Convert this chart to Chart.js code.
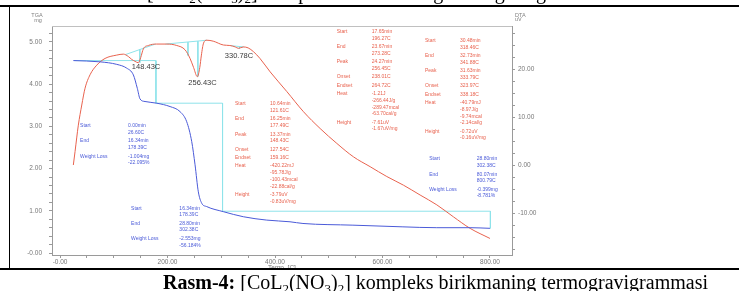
<!DOCTYPE html>
<html>
<head>
<meta charset="utf-8">
<script src="https://cdn.jsdelivr.net/npm/chart.js@4.4.1/dist/chart.umd.min.js"></script>
<style>
  html, body { margin: 0; padding: 0; background: #fff; }
  #sahifa { position: relative; width: 739px; height: 291px; overflow: hidden; background: #fff; }
  #grafik { position: absolute; left: 0; top: 0; }
  .chiziq { position: absolute; background: #000; z-index: 3; }
  #pastOq { position: absolute; left: 0; top: 270px; width: 739px; height: 21px; background: #fff; z-index: 2; }
  .sarlavha { position: absolute; font-family: 'Liberation Serif', 'Times New Roman', serif; font-size: 20px; line-height: 20px; white-space: nowrap; color: #000; z-index: 4; }
  .sarlavha sub { font-size: 13px; line-height: 0; vertical-align: -4px; }
</style>
</head>
<body>
<div id="sahifa">
  <canvas id="grafik" width="739" height="291"></canvas>
  <div class="sarlavha" style="left:147px; top:-18px;">[CoL<sub>2</sub>(NO<sub>3</sub>)<sub>2</sub>] kompleks birikmaning termogravigrammasi</div>
  <div class="chiziq" style="left:0; top:5px; width:739px; height:2px;"></div>
  <div class="chiziq" style="left:9px; top:5px; width:1px; height:264px;"></div>
  <div class="chiziq" style="left:0; top:268px; width:739px; height:2px;"></div>
  <div id="pastOq"></div>
  <div class="sarlavha" style="left:163px; top:272px;"><b>Rasm-4:</b> [CoL<sub>2</sub>(NO<sub>3</sub>)<sub>2</sub>] kompleks birikmaning termogravigrammasi</div>
</div>
<script>
// TGA (ko'k chiziq), mg
const tgaHarorat = [24.7, 74.4, 105.5, 124.1, 136.4, 143.8, 148.8, 158.1, 179.9, 204.7, 223.3, 235.7, 245, 251.2, 257.3, 263.6, 272.9, 303.8, 341, 384.6, 427.9, 452, 545, 638, 701, 763, 800];
const tgaMassa = [4.56, 4.53, 4.47, 4.38, 4.22, 3.90, 3.65, 3.59, 3.55, 3.47, 3.35, 3.11, 2.64, 2.09, 1.45, 1.18, 1.10, 0.98, 0.86, 0.78, 0.74, 0.70, 0.66, 0.62, 0.60, 0.60, 0.585];

// DTA (qizil chiziq), uV
const dtaHarorat = [24.7, 27.9, 34, 40.4, 46.5, 55.8, 68.3, 83.7, 105.5, 117.8, 127.1, 133.4, 139.5, 145.7, 150.1, 155, 164.3, 179.9, 198.5, 217.1, 232.6, 241.9, 248.5, 255.5, 260, 263, 267, 273, 285, 304, 316, 326, 332, 341, 350, 360, 372, 391, 422, 453, 484, 515, 546, 577, 608, 639, 670, 701, 732, 763, 800];
const dtaQiymat = [0, 2.8, 8.3, 12.5, 16.0, 18.8, 20.8, 22.2, 22.9, 23.1, 22.6, 22.0, 21.6, 21.3, 22.4, 24.2, 24.9, 25.2, 25.2, 24.9, 24.0, 22.2, 20.3, 18.4, 20.3, 22.9, 25.4, 26.0, 25.8, 25.0, 24.9, 24.6, 24.3, 24.6, 24.4, 23.6, 22.2, 19.4, 15.3, 11.1, 7.6, 4.5, 1.7, -0.35, -2.4, -4.2, -6.25, -8.3, -10.8, -13.2, -15.3];

// tahlil chiziqlari (havorang)
const tgaChegaraHarorat = [26.6, 178.39, 178.39, 302.38, 302.38, 800.79, 800.79];
const tgaChegaraMassa = [4.56, 4.56, 3.55, 3.55, 0.99, 0.99, 0.585];
const dtaAsosHarorat = [121.61, 177.49, 196.27, 273.28, 318.46, 341.88];
const dtaAsosQiymat = [23.0, 25.2, 25.2, 26.0, 24.85, 24.6];
const chuqqiHarorat = [148.43, 256.45, 333.79, 238.01];
const chuqqiYuqori = [24.1, 25.8, 24.65, 25.6];
const chuqqiPast = [21.3, 18.4, 24.2, 22.8];

// o'q belgilari
const xQiymatlar = [0, 200, 400, 600, 800];
const xBelgilar = ['-0.00', '200.00', '400.00', '600.00', '800.00'];
const tgaQiymatlar = [0, 1, 2, 3, 4, 5];
const tgaBelgilar = ['-0.00', '1.00', '2.00', '3.00', '4.00', '5.00'];
const dtaQiymatlar = [-10, 0, 10, 20];
const dtaBelgilar = ['-10.00', '0.00', '10.00', '20.00'];

// cho'qqi yozuvlari
const chuqqiYozuvlar = ['148.43C', '256.43C', '330.78C'];

// natija bloklari
const blokTga1 = { nomlar: ['Start', 'End', 'Weight Loss'], qiymatlar: [['0.00min', '26.60C'], ['16.34min', '178.39C'], ['-1.004mg', '-22.095%']] };
const blokTga2 = { nomlar: ['Start', 'End', 'Weight Loss'], qiymatlar: [['16.34min', '178.39C'], ['28.80min', '302.38C'], ['-2.553mg', '-56.184%']] };
const blokTga3 = { nomlar: ['Start', 'End', 'Weight Loss'], qiymatlar: [['28.80min', '302.38C'], ['80.07min', '800.79C'], ['-0.399mg', '-8.781%']] };
const dtaNomlar = ['Start', 'End', 'Peak', 'Onset', 'Endset', 'Heat', 'Height'];
const blokDta1 = { nomlar: dtaNomlar, qiymatlar: [['10.64min', '121.61C'], ['16.25min', '177.49C'], ['13.37min', '148.43C'], ['127.54C'], ['159.16C'], ['-420.22mJ', '-95.78J/g', '-100.43mcal', '-22.88cal/g'], ['-3.79uV', '-0.83uV/mg']] };
const blokDta2 = { nomlar: dtaNomlar, qiymatlar: [['17.65min', '196.27C'], ['23.67min', '273.28C'], ['24.27min', '256.45C'], ['238.01C'], ['264.72C'], ['-1.21J', '-266.44J/g', '-289.47mcal', '-63.70cal/g'], ['-7.61uV', '-1.67uV/mg']] };
const blokDta3 = { nomlar: dtaNomlar, qiymatlar: [['30.48min', '318.46C'], ['32.73min', '341.88C'], ['31.63min', '333.79C'], ['323.97C'], ['338.18C'], ['-40.79mJ', '-8.97J/g', '-9.74mcal', '-2.14cal/g'], ['-0.72uV', '-0.16uV/mg']] };

const KOK = '#4a5ad8';
const QIZIL = '#e8624e';
const HAVO = '#8fe3ea';

function juftlar(xlar, ylar) {
    return xlar.map((x, i) => ({ x: x, y: ylar[i] }));
}

function boshliqliJuftlar(xlar, ylar) {
    const natija = [];
    for (let i = 0; i < xlar.length; i += 2) {
        natija.push({ x: xlar[i], y: ylar[i] }, { x: xlar[i + 1], y: ylar[i + 1] }, { x: xlar[i + 1], y: null });
    }
    return natija;
}

function tikChiziqlar(xlar, yuqori, past) {
    const natija = [];
    xlar.forEach((x, i) => {
        natija.push({ x: x, y: yuqori[i] }, { x: x, y: past[i] }, { x: x + 0.01, y: null });
    });
    return natija;
}

// tiklarni o'zimiz qo'yamiz: chegaraga yaqin 0 tikini Chart.js tashlab yubormasin
function qadamBoyicha(qadam) {
    return function(o) {
        const tiklar = [];
        for (let k = Math.ceil(o.min / qadam - 1e-9); k * qadam <= o.max + 1e-9; k++) {
            tiklar.push({ value: Math.round(k * qadam * 1000) / 1000 });
        }
        o.ticks = tiklar;
    };
}

function belgiTop(qiymatlar, belgilar) {
    return function(v) {
        const i = qiymatlar.findIndex(q => Math.abs(q - v) < 1e-6);
        return i < 0 ? '' : belgilar[i];
    };
}

// yozuvlarning joylashuvi (ma'lumot birliklarida)
const joylar = {
    tga1: { oq: 'yTga', nomX: 37.2, qiymatX: 126.5, y: 3.009 },
    tga2: { oq: 'yTga', nomX: 132.1, qiymatX: 222, y: 1.059 },
    tga3: { oq: 'yTga', nomX: 687, qiymatX: 775.3, y: 2.227 },
    dta1: { oq: 'yDta', nomX: 325.6, qiymatX: 390.7, y: 12.71 },
    dta2: { oq: 'yDta', nomX: 514.8, qiymatX: 579.9, y: 27.77 },
    dta3: { oq: 'yDta', nomX: 679.1, qiymatX: 744.2, y: 25.9 },
    chuqqiX: [160, 265, 333],
    chuqqiY: [20.35, 17.15, 22.77]
};

const yozuvPlagin = {
    id: 'yozuvlar',
    afterDatasetsDraw(chart) {
        const { ctx, chartArea, scales } = chart;
        ctx.save();

        ctx.strokeStyle = '#c0c0c0';
        ctx.lineWidth = 1;
        ctx.beginPath();
        ctx.moveTo(chartArea.left, chartArea.top + 0.5);
        ctx.lineTo(chartArea.right, chartArea.top + 0.5);
        ctx.stroke();

        ctx.fillStyle = '#808080';
        ctx.font = '5.5px "Liberation Sans"';
        ctx.textBaseline = 'middle';
        ctx.textAlign = 'center';
        ctx.fillText('TGA', chartArea.left - 15, chartArea.top - 11);
        ctx.fillText('mg', chartArea.left - 14, chartArea.top - 6);
        ctx.textAlign = 'left';
        ctx.fillText('DTA', chartArea.right + 3, chartArea.top - 11);
        ctx.fillText('uV', chartArea.right + 3, chartArea.top - 6.5);

        function blokChiz(blok, joy, rang) {
            const ys = scales[joy.oq];
            let y = ys.getPixelForValue(joy.y);
            const xl = scales.x.getPixelForValue(joy.nomX);
            const xv = scales.x.getPixelForValue(joy.qiymatX);
            ctx.fillStyle = rang;
            ctx.font = '5px "Liberation Sans"';
            blok.nomlar.forEach((nom, i) => {
                ctx.fillText(nom, xl, y);
                blok.qiymatlar[i].forEach(q => {
                    ctx.fillText(q, xv, y);
                    y += 6.7;
                });
                y += 1.7;
            });
        }
        blokChiz(blokTga1, joylar.tga1, KOK);
        blokChiz(blokTga2, joylar.tga2, KOK);
        blokChiz(blokTga3, joylar.tga3, KOK);
        blokChiz(blokDta1, joylar.dta1, QIZIL);
        blokChiz(blokDta2, joylar.dta2, QIZIL);
        blokChiz(blokDta3, joylar.dta3, QIZIL);

        ctx.fillStyle = '#3a3a3a';
        ctx.font = '7.5px "Liberation Sans"';
        ctx.textAlign = 'center';
        chuqqiYozuvlar.forEach((t, i) => {
            ctx.fillText(t, scales.x.getPixelForValue(joylar.chuqqiX[i]), scales.yDta.getPixelForValue(joylar.chuqqiY[i]));
        });
        ctx.restore();
    }
};

const tikShrift = { family: 'Liberation Sans', size: 6.5 };
const oqRangi = '#9a9a9a';

new Chart(document.getElementById('grafik'), {
    type: 'line',
    data: {
        datasets: [{
            label: 'TGA',
            data: juftlar(tgaHarorat, tgaMassa),
            yAxisID: 'yTga',
            borderColor: KOK,
            borderWidth: 1,
            cubicInterpolationMode: 'monotone'
        }, {
            label: 'DTA',
            data: juftlar(dtaHarorat, dtaQiymat),
            yAxisID: 'yDta',
            borderColor: QIZIL,
            borderWidth: 1,
            cubicInterpolationMode: 'monotone'
        }, {
            label: 'TGA chegaralar',
            data: juftlar(tgaChegaraHarorat, tgaChegaraMassa),
            yAxisID: 'yTga',
            borderColor: HAVO,
            borderWidth: 1
        }, {
            label: 'DTA asos',
            data: boshliqliJuftlar(dtaAsosHarorat, dtaAsosQiymat).concat(tikChiziqlar(chuqqiHarorat, chuqqiYuqori, chuqqiPast)),
            yAxisID: 'yDta',
            borderColor: HAVO,
            borderWidth: 1,
            spanGaps: false
        }]
    },
    options: {
        responsive: false,
        animation: false,
        devicePixelRatio: 1,
        layout: { padding: { top: 26, bottom: 18.6, left: 0, right: 0 } },
        elements: { point: { radius: 0 }, line: { tension: 0 } },
        plugins: { legend: { display: false }, tooltip: { enabled: false } },
        scales: {
            x: {
                type: 'linear',
                min: -15,
                max: 841,
                afterFit: o => { o.height = 17.4; },
                afterBuildTicks: qadamBoyicha(50),
                ticks: { stepSize: 50, autoSkip: false, maxRotation: 0, padding: 0, color: '#777', font: tikShrift, callback: belgiTop(xQiymatlar, xBelgilar) },
                grid: { display: true, drawOnChartArea: false, tickLength: 3, color: oqRangi },
                border: { display: true, color: oqRangi },
                title: { display: true, text: 'Temp. [C]', color: '#777', font: tikShrift, padding: 0 }
            },
            yTga: {
                type: 'linear',
                position: 'left',
                min: -0.047,
                max: 5.379,
                afterFit: o => { o.width = 52; },
                afterBuildTicks: qadamBoyicha(0.2),
                ticks: { stepSize: 0.2, autoSkip: false, padding: 7, color: '#777', font: tikShrift, callback: belgiTop(tgaQiymatlar, tgaBelgilar) },
                grid: { display: true, drawOnChartArea: false, tickLength: 3, color: oqRangi },
                border: { display: true, color: oqRangi }
            },
            yDta: {
                type: 'linear',
                position: 'right',
                min: -18.75,
                max: 28.96,
                afterFit: o => { o.width = 227; },
                afterBuildTicks: qadamBoyicha(2.5),
                ticks: { stepSize: 2.5, autoSkip: false, padding: 3, color: '#777', font: tikShrift, callback: belgiTop(dtaQiymatlar, dtaBelgilar) },
                grid: { display: true, drawOnChartArea: false, tickLength: 3, color: oqRangi },
                border: { display: true, color: oqRangi }
            }
        }
    },
    plugins: [yozuvPlagin]
});
</script>
</body>
</html>
